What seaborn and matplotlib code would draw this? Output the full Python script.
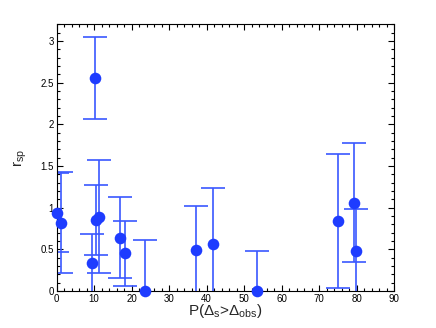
import matplotlib
matplotlib.use("Agg")
import matplotlib.pyplot as plt
import seaborn as sns
import pandas as pd
from matplotlib.ticker import MultipleLocator

# data
p_values = [0.1, 1.1, 9.5, 10.2, 10.4, 11.4, 16.9, 18.2, 23.5, 37.1, 41.8, 53.5, 75.1, 79.4, 79.9]
r_sp     = [0.94, 0.82, 0.33, 2.555, 0.85, 0.89, 0.64, 0.45, 0.0, 0.49, 0.56, 0.0, 0.84, 1.06, 0.48]
r_err    = [0.47, 0.61, 0.35, 0.49, 0.42, 0.68, 0.49, 0.395, 0.61, 0.53, 0.675, 0.48, 0.80, 0.715, 0.50]

df = pd.DataFrame({"p": p_values, "r": r_sp, "err": r_err})

sns.set_style("ticks")
plt.rcParams["font.family"] = ["Liberation Sans", "DejaVu Sans"]
plt.rcParams["mathtext.fontset"] = "custom"
plt.rcParams["mathtext.rm"] = "Liberation Sans"
plt.rcParams["mathtext.it"] = "Liberation Sans"

fig = plt.figure(figsize=(4.36, 3.28), dpi=100)
ax = fig.add_axes([0.130, 0.113, 0.774, 0.813])

line_col = "#3a58ff"
pt_col = "#1e3cff"

ax.errorbar(df["p"], df["r"], yerr=df["err"], fmt="none", ecolor=line_col,
            elinewidth=1.2, capsize=8.3, capthick=1.2, zorder=2)
sns.scatterplot(data=df, x="p", y="r", ax=ax, color=pt_col, s=70,
                edgecolor=pt_col, linewidth=0, zorder=3, clip_on=False)

ax.set_xlim(0, 90)
ax.set_ylim(0, 3.2)
ax.xaxis.set_major_locator(MultipleLocator(10))
ax.xaxis.set_minor_locator(MultipleLocator(2))
ax.yaxis.set_major_locator(MultipleLocator(0.5))
ax.yaxis.set_minor_locator(MultipleLocator(0.1))
ax.set_yticks([0, 0.5, 1, 1.5, 2, 2.5, 3])
ax.set_yticklabels(["0", "0.5", "1", "1.5", "2", "2.5", "3"])
ax.tick_params(which="both", direction="in", top=True, right=True,
               labelsize=7, pad=2, width=0.8, colors="black")
ax.tick_params(which="major", length=4)
ax.tick_params(which="minor", length=2)
for s in ax.spines.values():
    s.set_linewidth(0.8)
    s.set_color("black")

ax.set_xlabel(r"P($\Delta_{\rm s}$>$\Delta_{\rm obs}$)", fontsize=11, labelpad=-1)
ax.set_ylabel(r"r$_{\rm sp}$", fontsize=11, labelpad=8)

fig.savefig("out.png", dpi=100)
